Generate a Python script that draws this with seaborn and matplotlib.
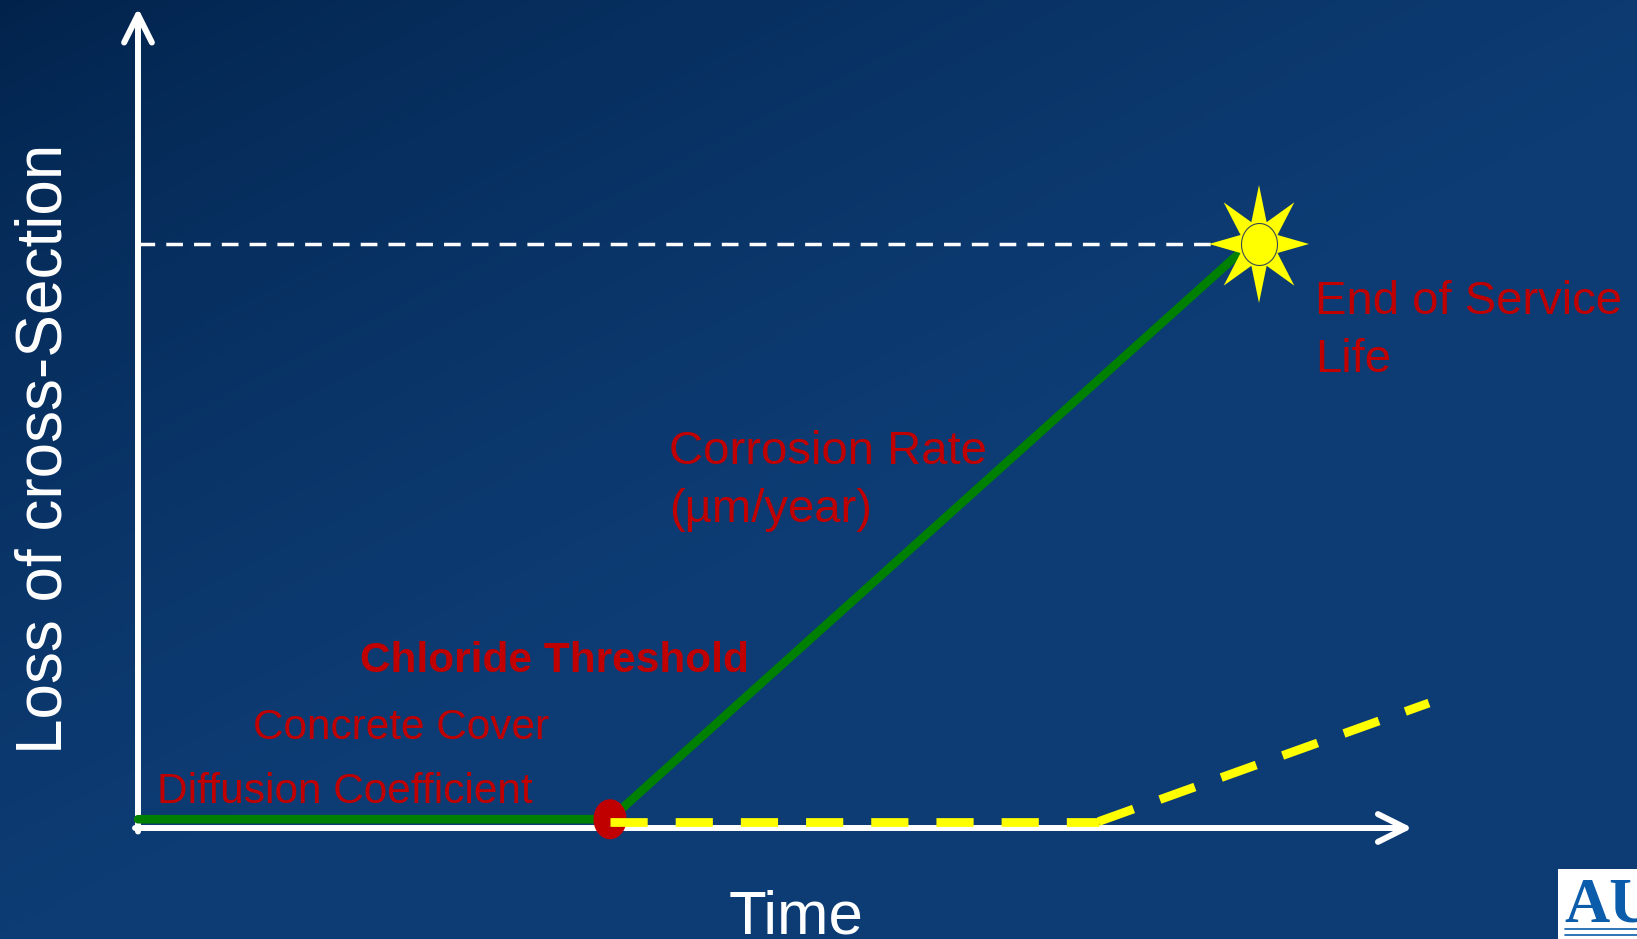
import numpy as np
import matplotlib
matplotlib.use("Agg")
import matplotlib.pyplot as plt
import seaborn as sns
from matplotlib.path import Path
from matplotlib.colors import LinearSegmentedColormap
from matplotlib.patches import Rectangle
from matplotlib.lines import Line2D

W, H = 1637, 939

# data (arbitrary units: time along x, loss of cross-section along y)
green_time = [0, 40, 94.2]
green_loss = [0.75, 0.75, 50]
yellow_time = [40, 81.4, 109.4]
yellow_loss = [0.55, 0.55, 10.7]
init_time, init_loss = 40, 0.75
end_time, end_loss = 95, 50
axis_time_max = 108
axis_loss_max = 70.2

x_label = "Time"
y_label = "Loss of cross-Section"
label_diffusion = "Diffusion Coefficient"
label_cover = "Concrete Cover"
label_threshold = "Chloride Threshold"
label_rate = "Corrosion Rate\n(µm/year)"
label_end = "End of Service\nLife"

RED = "#c00000"
GREEN = "#008000"
YELLOW = "#ffff00"

# pixel layout of the data frame
ORIGIN_X, ORIGIN_Y = 138, 828
PX_PER_T, PX_PER_L = 11.8, 11.68


def fx(px):
    return px / W


def fy(py):
    return 1 - py / H


def ellipse_path(rx, ry):
    th = np.linspace(0, 2 * np.pi, 73)
    return Path(np.column_stack([rx * np.cos(th), ry * np.sin(th)]), closed=True)


def star_path(rx, ry, inner=0.4):
    ang = np.pi / 2 + np.arange(16) * np.pi / 8
    r = np.where(np.arange(16) % 2 == 0, 1.0, inner)
    verts = np.column_stack([rx * r * np.cos(ang), ry * r * np.sin(ang)])
    verts = np.vstack([verts, verts[:1]])
    return Path(verts, closed=True)


sns.set_theme(style="white")
plt.rcParams["font.family"] = ["Liberation Sans", "DejaVu Sans"]

fig = plt.figure(figsize=(W / 100, H / 100), dpi=100)
ax = fig.add_axes([0, 0, 1, 1])
xlim = (-ORIGIN_X / PX_PER_T, (W - ORIGIN_X) / PX_PER_T)
ylim = (-(H - ORIGIN_Y) / PX_PER_L, ORIGIN_Y / PX_PER_L)

# background gradient
yy, xx = np.mgrid[0:1:300j, 0:1:520j]
grad = np.clip(xx * 0.9 + yy * 1.0, 0, 1) ** 0.7
cmap = LinearSegmentedColormap.from_list("bg", ["#01224a", "#0d3c74"])
ax.imshow(grad, cmap=cmap, extent=(*xlim, *ylim), origin="upper",
          aspect="auto", zorder=0)

# axes with arrows
arrow_kw = dict(arrowstyle="->,head_length=1.0,head_width=0.5", color="white",
                lw=4.3, mutation_scale=20, shrinkA=0, shrinkB=0,
                capstyle="round", joinstyle="round")
ax.annotate("", xy=(axis_time_max, 0), xytext=(-0.25, 0),
            arrowprops=arrow_kw, zorder=2)
ax.annotate("", xy=(0, axis_loss_max), xytext=(0, -0.3),
            arrowprops=arrow_kw, zorder=2)

# end-of-life level
sns.lineplot(x=[0, end_time], y=[end_loss, end_loss], ax=ax, color="white",
             linewidth=2.5, linestyle=(0, (4.8, 3.2)), sort=False,
             estimator=None, zorder=2)

# corrosion curve
sns.lineplot(x=green_time, y=green_loss, ax=ax, color=GREEN, linewidth=6.2,
             sort=False, estimator=None, zorder=3)

# initiation point
sns.scatterplot(x=[init_time], y=[init_loss], ax=ax, marker=ellipse_path(16.5, 20),
                s=(40 / 1.389) ** 2, color=RED, edgecolor="none", zorder=4)

# alternative curve, drawn segment by segment (dash pattern restarts)
for i in range(len(yellow_time) - 1):
    sns.lineplot(x=yellow_time[i:i + 2], y=yellow_loss[i:i + 2], ax=ax,
                 color=YELLOW, linewidth=6.3, linestyle=(0, (4.25, 3.2)),
                 sort=False, estimator=None, zorder=5)

# end of service life star
sns.scatterplot(x=[end_time], y=[end_loss], ax=ax, marker=star_path(50, 59),
                s=(118 / 1.389) ** 2, color=YELLOW, edgecolor="none", zorder=6)
sns.scatterplot(x=[end_time], y=[end_loss], ax=ax, marker=ellipse_path(18, 21),
                s=(42 / 1.389) ** 2, color=YELLOW, edgecolor="#3b4a52",
                linewidth=0.8, zorder=7)

ax.set_xlim(*xlim)
ax.set_ylim(*ylim)
ax.set_axis_off()

# labels
fig.text(fx(62), fy(754), y_label, color="white", fontsize=46, rotation=90,
         rotation_mode="anchor", ha="left", va="baseline")
fig.text(fx(796), fy(933), x_label, color="white", fontsize=44.5,
         ha="center", va="baseline")
fig.text(fx(157), fy(803), label_diffusion, color=RED, fontsize=30.5,
         ha="left", va="baseline")
fig.text(fx(253), fy(739), label_cover, color=RED, fontsize=30.5,
         ha="left", va="baseline")
fig.text(fx(360), fy(672), label_threshold, color=RED, fontsize=30.5,
         fontweight="bold", ha="left", va="baseline")
# multi-line labels: baseline anchor sits on the last line
fig.text(fx(669), fy(522), label_rate, color=RED, fontsize=34,
         ha="left", va="baseline", linespacing=1.4)
fig.text(fx(1315), fy(372), label_end, color=RED, fontsize=34,
         ha="left", va="baseline", linespacing=1.4)

# logo corner
fig.add_artist(Rectangle((fx(1558), 0), 1 - fx(1558), fy(869),
                         transform=fig.transFigure, facecolor="white",
                         edgecolor="none", zorder=10))
fig.text(fx(1564), fy(922), "AU", color="#0b5cab", fontsize=45,
         fontweight="bold", family=["Liberation Serif"], ha="left",
         va="baseline", zorder=11)
for py in (929, 935):
    fig.add_artist(Line2D([fx(1565), 1], [fy(py), fy(py)],
                          transform=fig.transFigure, color="#0b5cab",
                          linewidth=1.2, zorder=11))

fig.savefig("out.png", dpi=100)
plt.close(fig)
